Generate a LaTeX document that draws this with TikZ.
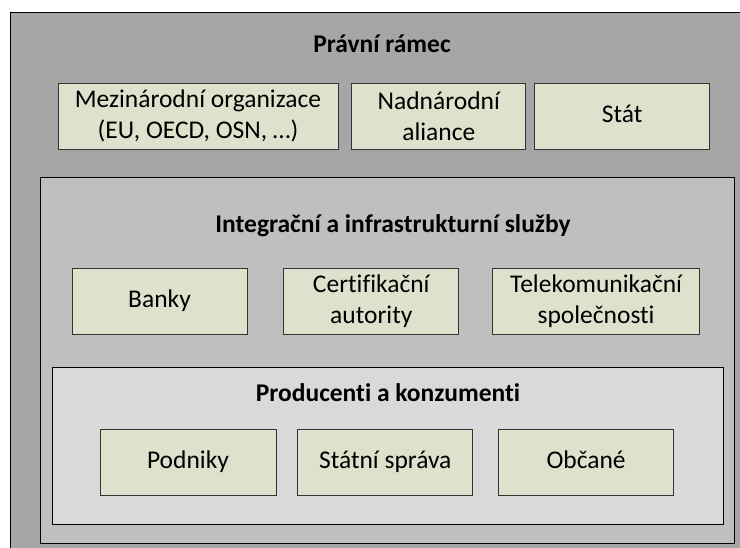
\documentclass[tikz,border=0pt]{standalone}
\usepackage{fontspec}
\setmainfont{Carlito}[Ligatures = NoCommon]
\usepackage{tikz}
\usetikzlibrary{positioning}

\definecolor{ramecGray}{RGB}{166,166,166}
\definecolor{sluzbyGray}{RGB}{191,191,191}
\definecolor{aktGray}{RGB}{217,217,217}
\definecolor{unitFill}{RGB}{222,225,204}

\begin{document}
\begin{tikzpicture}
[
	x = 1pt, y = -1pt,
	layer/.style	= {draw = black, line width = 1.2pt, inner sep = 0pt, anchor = north west},
	unit/.style	= {draw = black!80, fill = unitFill, line width = 0.8pt, minimum width = 175pt, minimum height = 66pt, inner sep = 0pt, align = center, font = \fontsize{25.5}{31}\selectfont},
	single/.style	= {text height = 18pt, text depth = 6pt},
	title/.style	= {font = \fontsize{25.5}{30}\selectfont\bfseries},
]

	\useasboundingbox (0,0) rectangle (740,547);
	\clip (0,0) rectangle (740,547);
	\fill [white] (0,0) rectangle (740,547);

	\node (ramec) [layer, fill = ramecGray, minimum width = 760pt, minimum height = 560pt] at (10,12) {};
	\node (sluzby) [layer, fill = sluzbyGray, minimum width = 694pt, minimum height = 366pt] at (40,177) {};
	\node (akteri) [layer, fill = aktGray, minimum width = 671pt, minimum height = 157pt] at (52,367) {};

	\node (ramecT) [title] at (382,44) {Právní rámec};
	\node (sluzbyT) [title] at (393,226) {Integrační a infrastrukturní služby};
	\node (akteriT) [title] at (388,393) {Producenti a konzumenti};
	%
	\node (mezi) [unit, minimum width = 280pt] at (198,116) {Mezinárodní organizace\\(EU, OECD, OSN, \dots)};
	\node (nadnar) [unit, minimum width = 174pt, right = 13pt of mezi] {Nadnárodní\\aliance};
	\node (stat) [unit, single, right = 8pt of nadnar] {Stát};
	%
	\node (banky) [unit, single] at (159.5,301) {Banky};
	\node (certif) [unit, right = 36pt of banky] {Certifikační\\autority};
	\node (telekom) [unit, minimum width = 207pt, right = 33pt of certif] {Telekomunikační\\společnosti};
	%
	\node (podniky) [unit, single, minimum width = 176pt] at (188,462) {Podniky};
	\node (sprava) [unit, single, right = 21pt of podniky] {Státní správa};
	\node (obcane) [unit, single, right = 25pt of sprava] {Občané};

\end{tikzpicture}
\end{document}
